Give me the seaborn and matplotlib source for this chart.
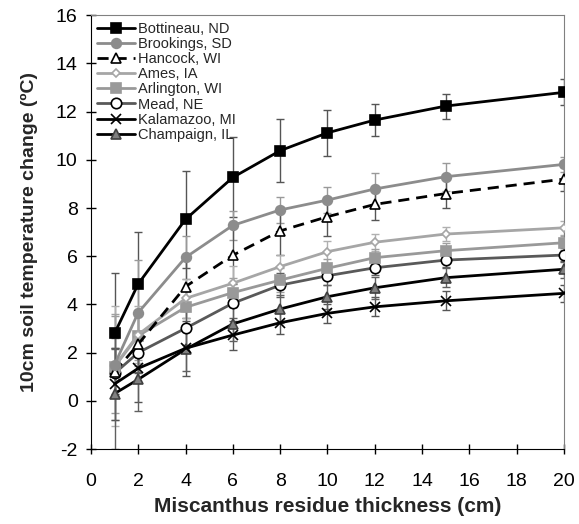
import numpy as np
import pandas as pd
import matplotlib
matplotlib.use('Agg')
import matplotlib.pyplot as plt
import seaborn as sns

thickness = [1, 2, 4, 6, 8, 10, 12, 15, 20]
sites = ['Bottineau, ND', 'Brookings, SD', 'Hancock, WI', 'Ames, IA',
         'Arlington, WI', 'Mead, NE', 'Kalamazoo, MI', 'Champaign, IL']

bottineau = [2.8, 4.85, 7.53, 9.27, 10.38, 11.12, 11.65, 12.23, 12.8]
brookings = [1.5, 3.66, 5.95, 7.28, 7.92, 8.33, 8.79, 9.3, 9.81]
hancock = [1.2, 2.35, 4.74, 6.04, 7.05, 7.64, 8.15, 8.6, 9.2]
ames = [1.45, 2.75, 4.25, 4.88, 5.57, 6.19, 6.58, 6.92, 7.18]
arlington = [1.42, 2.7, 3.88, 4.49, 5.01, 5.5, 5.94, 6.23, 6.56]
mead = [1.14, 2.0, 3.01, 4.05, 4.8, 5.19, 5.52, 5.84, 6.05]
kalamazoo = [0.7, 1.35, 2.18, 2.73, 3.24, 3.63, 3.9, 4.15, 4.46]
champaign = [0.3, 0.89, 2.14, 3.19, 3.81, 4.32, 4.69, 5.11, 5.46]

err_bottineau = [2.5, 2.15, 2.0, 1.66, 1.3, 0.95, 0.67, 0.52, 0.54]
err_brookings = [2.0, 2.2, 0.9, 0.6, 0.55, 0.55, 0.65, 0.58, 0.3]
err_hancock = [1.0, 1.2, 1.3, 1.2, 1.0, 0.8, 0.65, 0.6, 0.5]
err_ames = [2.5, 1.2, 0.8, 0.7, 0.5, 0.45, 0.35, 0.3, 0.3]
err_arlington = [2.2, 1.0, 0.7, 0.6, 0.5, 0.4, 0.35, 0.3, 0.3]
err_mead = [1.0, 0.8, 0.7, 0.6, 0.5, 0.4, 0.3, 0.3, 0.3]
err_kalamazoo = [1.5, 1.4, 1.15, 0.6, 0.45, 0.4, 0.4, 0.4, 0.35]
err_champaign = [2.3, 1.3, 0.9, 0.7, 0.6, 0.5, 0.45, 0.4, 0.35]

values = [bottineau, brookings, hancock, ames, arlington, mead, kalamazoo, champaign]
errors = [err_bottineau, err_brookings, err_hancock, err_ames,
          err_arlington, err_mead, err_kalamazoo, err_champaign]

# line colour, linestyle, marker, marker face, marker edge, marker size
styles = [
    ('black', '-', 's', 'black', 'black', 7),
    ('#8c8c8c', '-', 'o', '#8c8c8c', '#8c8c8c', 7),
    ('black', (0, (4, 2.5)), '^', 'white', 'black', 6.5),
    ('#a6a6a6', '-', 'D', 'white', '#a6a6a6', 4.5),
    ('#999999', '-', 's', '#999999', '#999999', 6.5),
    ('#595959', '-', 'o', 'white', 'black', 7.5),
    ('black', '-', 'x', 'black', 'black', 7),
    ('black', '-', '^', '#808080', '#404040', 7),
]
err_colors = ['#555555', '#999999', '#555555', '#b0b0b0',
              '#a0a0a0', '#606060', '#555555', '#606060']

sns.set_style('ticks')
plt.rcParams['font.family'] = ['Liberation Sans', 'DejaVu Sans']
plt.rcParams['axes.unicode_minus'] = False

fig, ax = plt.subplots(figsize=(5.79, 5.24), dpi=100)
fig.subplots_adjust(left=0.157, right=0.974, bottom=0.143, top=0.971)

n = len(sites)
for i, (site, vals, errs) in enumerate(zip(sites, values, errors)):
    color, ls, marker, mfc, mec, ms = styles[i]
    ax.errorbar(thickness, vals, yerr=errs, fmt='none', ecolor=err_colors[i],
                elinewidth=1, capsize=3, capthick=1, zorder=1 + i * 0.01)
    df = pd.DataFrame({'x': thickness, 'y': vals})
    sns.lineplot(data=df, x='x', y='y', ax=ax, color=color, linestyle=ls,
                 linewidth=2, marker=marker, markersize=ms,
                 markerfacecolor=mfc, markeredgecolor=mec, markeredgewidth=1.2,
                 label=site, zorder=3 + (n - i) * 0.1)

ax.set_xlim(0, 20)
ax.set_ylim(-2, 16)
ax.set_xticks(np.arange(0, 21, 2))
ax.set_yticks(np.arange(-2, 17, 2))
ax.tick_params(direction='inout', length=7, width=1, labelsize=14, colors='black')
ax.tick_params(axis='x', pad=14)
ax.tick_params(axis='y', pad=6)
for side in ['top', 'right']:
    ax.spines[side].set_visible(True)
    ax.spines[side].set_color('#808080')
for side in ['left', 'bottom']:
    ax.spines[side].set_color('black')

ax.set_xlabel('Miscanthus residue thickness (cm)', fontsize=15, fontweight='bold', labelpad=5)
ax.set_ylabel('10cm soil temperature change (ºC)', fontsize=14, fontweight='bold', labelpad=13)

ax.legend(loc='upper left', frameon=False, fontsize=10.5, handlelength=2.6,
          labelspacing=0.08, handletextpad=0.15, borderaxespad=0.25,
          borderpad=0.2)

fig.savefig('out.png', dpi=100)
